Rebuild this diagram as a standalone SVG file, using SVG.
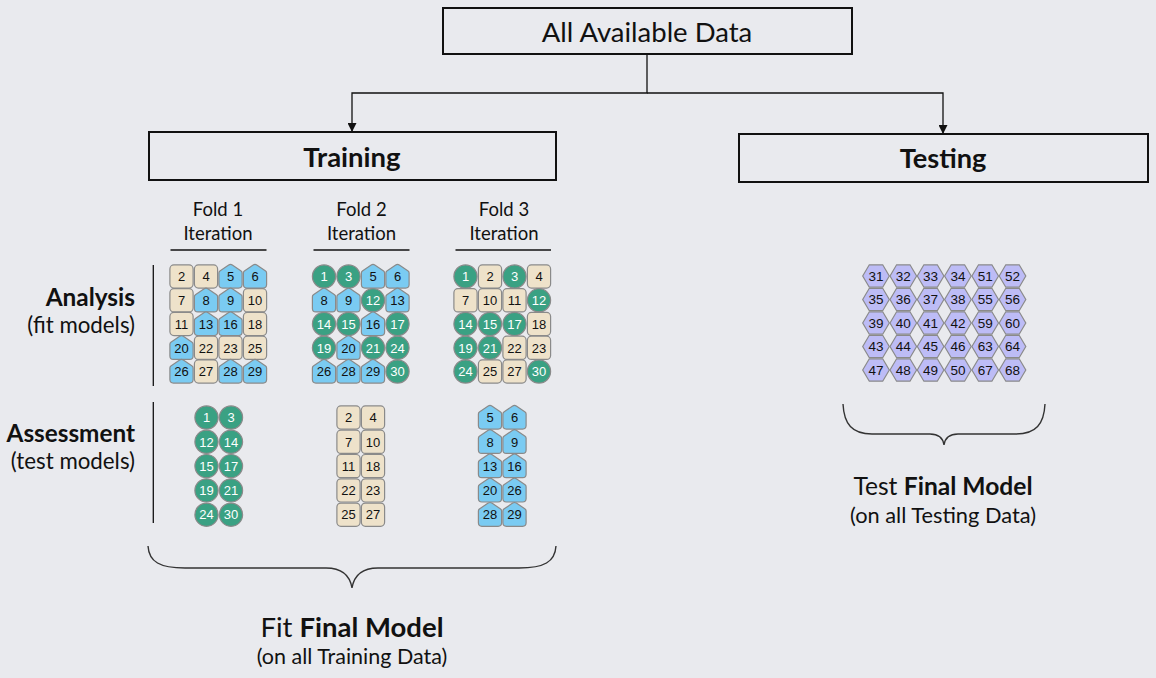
<svg xmlns="http://www.w3.org/2000/svg" xmlns:xlink="http://www.w3.org/1999/xlink" width="1156" height="678" viewBox="0 0 1156 678">
<style>
.t{font-family:Lato,"Open Sans","Liberation Sans",sans-serif;fill:#111;text-anchor:middle}
.e{text-anchor:end}
.b{font-weight:bold}
.box{fill:#E9EAEE;stroke:#111;stroke-width:2}
.ln{stroke:#111;stroke-width:1.3;fill:none}
.br{stroke:#333;stroke-width:1.4;fill:none}
.g{fill:#3AA183;stroke:#8A8A8A;stroke-width:1.2}
.y{fill:#EEE2CA;stroke:#8A8A8A;stroke-width:1.2}
.u{fill:#7ACBF2;stroke:#8A8A8A;stroke-width:1.2}
.h{fill:#BDBCF6;stroke:#8A8A8A;stroke-width:1.2}
.n{font-family:"Liberation Sans",Arial,sans-serif;font-size:13px;text-anchor:middle;fill:#111}
.w{fill:#fff}
.hn{font-size:13.5px}
</style>
<defs>
<circle id="c" r="11.6"/>
<rect id="s" x="-11.6" y="-11.6" width="23.2" height="23.2" rx="4"/>
<path id="p" d="M0,-12.2 Q0.9,-12.2 1.8,-11.6 L10.6,-5.6 Q11.6,-4.9 11.6,-3.6 L11.6,8.1 Q11.6,11.6 8.1,11.6 L-8.1,11.6 Q-11.6,11.6 -11.6,8.1 L-11.6,-3.6 Q-11.6,-4.9 -10.6,-5.6 L-1.8,-11.6 Q-0.9,-12.2 0,-12.2 Z"/>
<path id="x" d="M-13.3,0 L-6.7,-11.2 L6.7,-11.2 L13.3,0 L6.7,11.2 L-6.7,11.2 Z"/>
<marker id="ah" viewBox="0 0 10 10" refX="10" refY="5" markerWidth="9" markerHeight="9" markerUnits="userSpaceOnUse" orient="auto">
<path d="M0,0 L10,5 L0,10 Z" fill="#111"/>
</marker>
</defs>
<rect width="1156" height="678" fill="#E9EAEE"/>

<g id="connectors">
<polyline class="ln" points="647,55 647,93 352,93 352,132" marker-end="url(#ah)"/>
<polyline class="ln" points="647,93 943,93 943,134" marker-end="url(#ah)"/>
<line class="ln" x1="170.5" y1="250" x2="266.5" y2="250"/>
<line class="ln" x1="313.5" y1="250" x2="409.5" y2="250"/>
<line class="ln" x1="455.5" y1="250" x2="551" y2="250"/>
<line class="ln" x1="153.3" y1="265" x2="153.3" y2="386"/>
<line class="ln" x1="153.3" y1="402" x2="153.3" y2="523"/>
<path class="br" d="M148,546 C149,562 160,568 185,568 L326,568 C342,568 350,576 352,588 C354,576 362,568 378,568 L519,568 C544,568 555,562 556,546"/>
<path class="br" d="M843,404 C844,424 852,434 872,434 L930,434 C938,434 943,438 944,445 C945,438 950,434 958,434 L1016,434 C1036,434 1044,424 1045,404"/>
</g>

<g id="all-data">
<rect class="box" x="443" y="8" width="409" height="46"/>
<text class="t" x="647" y="42" font-size="27.5">All Available Data</text>
</g>
<g id="training">
<rect class="box" x="149" y="132" width="407" height="48"/>
<text class="t b" x="352" y="166.5" font-size="27.5">Training</text>
</g>
<g id="testing">
<rect class="box" x="739" y="134" width="409" height="48"/>
<text class="t b" x="943" y="168" font-size="27.2">Testing</text>
</g>

<g id="fold-labels">
<text class="t" x="218" y="216" font-size="18.5">Fold 1</text>
<text class="t" x="218" y="240" font-size="18.5">Iteration</text>
<text class="t" x="361.5" y="216" font-size="18.5">Fold 2</text>
<text class="t" x="361.5" y="240" font-size="18.5">Iteration</text>
<text class="t" x="504" y="216" font-size="18.5">Fold 3</text>
<text class="t" x="504" y="240" font-size="18.5">Iteration</text>
</g>

<g id="row-labels">
<text class="t e b" x="135" y="306" font-size="24.4">Analysis</text>
<text class="t e" x="135" y="333" font-size="22.3">(fit models)</text>
<text class="t e b" x="135" y="441.5" font-size="24.3">Assessment</text>
<text class="t e" x="135" y="469" font-size="22.3">(test models)</text>
</g>

<g id="fold1-analysis">
<use href="#s" class="y" x="181.5" y="276.5"/><text class="n" x="181.5" y="281.2">2</text>
<use href="#s" class="y" x="206" y="276.5"/><text class="n" x="206" y="281.2">4</text>
<use href="#p" class="u" x="230.5" y="276.5"/><text class="n" x="230.5" y="281.2">5</text>
<use href="#p" class="u" x="255" y="276.5"/><text class="n" x="255" y="281.2">6</text>
<use href="#s" class="y" x="181.5" y="300.3"/><text class="n" x="181.5" y="305">7</text>
<use href="#p" class="u" x="206" y="300.3"/><text class="n" x="206" y="305">8</text>
<use href="#p" class="u" x="230.5" y="300.3"/><text class="n" x="230.5" y="305">9</text>
<use href="#s" class="y" x="255" y="300.3"/><text class="n" x="255" y="305">10</text>
<use href="#s" class="y" x="181.5" y="324"/><text class="n" x="181.5" y="328.7">11</text>
<use href="#p" class="u" x="206" y="324"/><text class="n" x="206" y="328.7">13</text>
<use href="#p" class="u" x="230.5" y="324"/><text class="n" x="230.5" y="328.7">16</text>
<use href="#s" class="y" x="255" y="324"/><text class="n" x="255" y="328.7">18</text>
<use href="#p" class="u" x="181.5" y="347.8"/><text class="n" x="181.5" y="352.5">20</text>
<use href="#s" class="y" x="206" y="347.8"/><text class="n" x="206" y="352.5">22</text>
<use href="#s" class="y" x="230.5" y="347.8"/><text class="n" x="230.5" y="352.5">23</text>
<use href="#s" class="y" x="255" y="347.8"/><text class="n" x="255" y="352.5">25</text>
<use href="#p" class="u" x="181.5" y="371.5"/><text class="n" x="181.5" y="376.2">26</text>
<use href="#s" class="y" x="206" y="371.5"/><text class="n" x="206" y="376.2">27</text>
<use href="#p" class="u" x="230.5" y="371.5"/><text class="n" x="230.5" y="376.2">28</text>
<use href="#p" class="u" x="255" y="371.5"/><text class="n" x="255" y="376.2">29</text>
</g>

<g id="fold2-analysis">
<use href="#c" class="g" x="324" y="276.5"/><text class="n w" x="324" y="281.2">1</text>
<use href="#c" class="g" x="348.5" y="276.5"/><text class="n w" x="348.5" y="281.2">3</text>
<use href="#p" class="u" x="373" y="276.5"/><text class="n" x="373" y="281.2">5</text>
<use href="#p" class="u" x="397.5" y="276.5"/><text class="n" x="397.5" y="281.2">6</text>
<use href="#p" class="u" x="324" y="300.3"/><text class="n" x="324" y="305">8</text>
<use href="#p" class="u" x="348.5" y="300.3"/><text class="n" x="348.5" y="305">9</text>
<use href="#c" class="g" x="373" y="300.3"/><text class="n w" x="373" y="305">12</text>
<use href="#p" class="u" x="397.5" y="300.3"/><text class="n" x="397.5" y="305">13</text>
<use href="#c" class="g" x="324" y="324"/><text class="n w" x="324" y="328.7">14</text>
<use href="#c" class="g" x="348.5" y="324"/><text class="n w" x="348.5" y="328.7">15</text>
<use href="#p" class="u" x="373" y="324"/><text class="n" x="373" y="328.7">16</text>
<use href="#c" class="g" x="397.5" y="324"/><text class="n w" x="397.5" y="328.7">17</text>
<use href="#c" class="g" x="324" y="347.8"/><text class="n w" x="324" y="352.5">19</text>
<use href="#p" class="u" x="348.5" y="347.8"/><text class="n" x="348.5" y="352.5">20</text>
<use href="#c" class="g" x="373" y="347.8"/><text class="n w" x="373" y="352.5">21</text>
<use href="#c" class="g" x="397.5" y="347.8"/><text class="n w" x="397.5" y="352.5">24</text>
<use href="#p" class="u" x="324" y="371.5"/><text class="n" x="324" y="376.2">26</text>
<use href="#p" class="u" x="348.5" y="371.5"/><text class="n" x="348.5" y="376.2">28</text>
<use href="#p" class="u" x="373" y="371.5"/><text class="n" x="373" y="376.2">29</text>
<use href="#c" class="g" x="397.5" y="371.5"/><text class="n w" x="397.5" y="376.2">30</text>
</g>

<g id="fold3-analysis">
<use href="#c" class="g" x="465.5" y="276.5"/><text class="n w" x="465.5" y="281.2">1</text>
<use href="#s" class="y" x="490" y="276.5"/><text class="n" x="490" y="281.2">2</text>
<use href="#c" class="g" x="514.5" y="276.5"/><text class="n w" x="514.5" y="281.2">3</text>
<use href="#s" class="y" x="539" y="276.5"/><text class="n" x="539" y="281.2">4</text>
<use href="#s" class="y" x="465.5" y="300.3"/><text class="n" x="465.5" y="305">7</text>
<use href="#s" class="y" x="490" y="300.3"/><text class="n" x="490" y="305">10</text>
<use href="#s" class="y" x="514.5" y="300.3"/><text class="n" x="514.5" y="305">11</text>
<use href="#c" class="g" x="539" y="300.3"/><text class="n w" x="539" y="305">12</text>
<use href="#c" class="g" x="465.5" y="324"/><text class="n w" x="465.5" y="328.7">14</text>
<use href="#c" class="g" x="490" y="324"/><text class="n w" x="490" y="328.7">15</text>
<use href="#c" class="g" x="514.5" y="324"/><text class="n w" x="514.5" y="328.7">17</text>
<use href="#s" class="y" x="539" y="324"/><text class="n" x="539" y="328.7">18</text>
<use href="#c" class="g" x="465.5" y="347.8"/><text class="n w" x="465.5" y="352.5">19</text>
<use href="#c" class="g" x="490" y="347.8"/><text class="n w" x="490" y="352.5">21</text>
<use href="#s" class="y" x="514.5" y="347.8"/><text class="n" x="514.5" y="352.5">22</text>
<use href="#s" class="y" x="539" y="347.8"/><text class="n" x="539" y="352.5">23</text>
<use href="#c" class="g" x="465.5" y="371.5"/><text class="n w" x="465.5" y="376.2">24</text>
<use href="#s" class="y" x="490" y="371.5"/><text class="n" x="490" y="376.2">25</text>
<use href="#s" class="y" x="514.5" y="371.5"/><text class="n" x="514.5" y="376.2">27</text>
<use href="#c" class="g" x="539" y="371.5"/><text class="n w" x="539" y="376.2">30</text>
</g>

<g id="fold1-assessment">
<use href="#c" class="g" x="206.5" y="417.5"/><text class="n w" x="206.5" y="422.2">1</text>
<use href="#c" class="g" x="231" y="417.5"/><text class="n w" x="231" y="422.2">3</text>
<use href="#c" class="g" x="206.5" y="441.8"/><text class="n w" x="206.5" y="446.5">12</text>
<use href="#c" class="g" x="231" y="441.8"/><text class="n w" x="231" y="446.5">14</text>
<use href="#c" class="g" x="206.5" y="466.1"/><text class="n w" x="206.5" y="470.8">15</text>
<use href="#c" class="g" x="231" y="466.1"/><text class="n w" x="231" y="470.8">17</text>
<use href="#c" class="g" x="206.5" y="490.4"/><text class="n w" x="206.5" y="495.1">19</text>
<use href="#c" class="g" x="231" y="490.4"/><text class="n w" x="231" y="495.1">21</text>
<use href="#c" class="g" x="206.5" y="514.7"/><text class="n w" x="206.5" y="519.4">24</text>
<use href="#c" class="g" x="231" y="514.7"/><text class="n w" x="231" y="519.4">30</text>
</g>

<g id="fold2-assessment">
<use href="#s" class="y" x="348.5" y="417.5"/><text class="n" x="348.5" y="422.2">2</text>
<use href="#s" class="y" x="373" y="417.5"/><text class="n" x="373" y="422.2">4</text>
<use href="#s" class="y" x="348.5" y="441.8"/><text class="n" x="348.5" y="446.5">7</text>
<use href="#s" class="y" x="373" y="441.8"/><text class="n" x="373" y="446.5">10</text>
<use href="#s" class="y" x="348.5" y="466.1"/><text class="n" x="348.5" y="470.8">11</text>
<use href="#s" class="y" x="373" y="466.1"/><text class="n" x="373" y="470.8">18</text>
<use href="#s" class="y" x="348.5" y="490.4"/><text class="n" x="348.5" y="495.1">22</text>
<use href="#s" class="y" x="373" y="490.4"/><text class="n" x="373" y="495.1">23</text>
<use href="#s" class="y" x="348.5" y="514.7"/><text class="n" x="348.5" y="519.4">25</text>
<use href="#s" class="y" x="373" y="514.7"/><text class="n" x="373" y="519.4">27</text>
</g>

<g id="fold3-assessment">
<use href="#p" class="u" x="490" y="417.5"/><text class="n" x="490" y="422.2">5</text>
<use href="#p" class="u" x="514.5" y="417.5"/><text class="n" x="514.5" y="422.2">6</text>
<use href="#p" class="u" x="490" y="441.8"/><text class="n" x="490" y="446.5">8</text>
<use href="#p" class="u" x="514.5" y="441.8"/><text class="n" x="514.5" y="446.5">9</text>
<use href="#p" class="u" x="490" y="466.1"/><text class="n" x="490" y="470.8">13</text>
<use href="#p" class="u" x="514.5" y="466.1"/><text class="n" x="514.5" y="470.8">16</text>
<use href="#p" class="u" x="490" y="490.4"/><text class="n" x="490" y="495.1">20</text>
<use href="#p" class="u" x="514.5" y="490.4"/><text class="n" x="514.5" y="495.1">26</text>
<use href="#p" class="u" x="490" y="514.7"/><text class="n" x="490" y="519.4">28</text>
<use href="#p" class="u" x="514.5" y="514.7"/><text class="n" x="514.5" y="519.4">29</text>
</g>

<g id="testing-data">
<use href="#x" class="h" x="876" y="276"/><text class="n hn" x="876" y="280.8">31</text>
<use href="#x" class="h" x="903.3" y="276"/><text class="n hn" x="903.3" y="280.8">32</text>
<use href="#x" class="h" x="930.6" y="276"/><text class="n hn" x="930.6" y="280.8">33</text>
<use href="#x" class="h" x="957.9" y="276"/><text class="n hn" x="957.9" y="280.8">34</text>
<use href="#x" class="h" x="985.2" y="276"/><text class="n hn" x="985.2" y="280.8">51</text>
<use href="#x" class="h" x="1012.5" y="276"/><text class="n hn" x="1012.5" y="280.8">52</text>
<use href="#x" class="h" x="876" y="299.5"/><text class="n hn" x="876" y="304.3">35</text>
<use href="#x" class="h" x="903.3" y="299.5"/><text class="n hn" x="903.3" y="304.3">36</text>
<use href="#x" class="h" x="930.6" y="299.5"/><text class="n hn" x="930.6" y="304.3">37</text>
<use href="#x" class="h" x="957.9" y="299.5"/><text class="n hn" x="957.9" y="304.3">38</text>
<use href="#x" class="h" x="985.2" y="299.5"/><text class="n hn" x="985.2" y="304.3">55</text>
<use href="#x" class="h" x="1012.5" y="299.5"/><text class="n hn" x="1012.5" y="304.3">56</text>
<use href="#x" class="h" x="876" y="323"/><text class="n hn" x="876" y="327.8">39</text>
<use href="#x" class="h" x="903.3" y="323"/><text class="n hn" x="903.3" y="327.8">40</text>
<use href="#x" class="h" x="930.6" y="323"/><text class="n hn" x="930.6" y="327.8">41</text>
<use href="#x" class="h" x="957.9" y="323"/><text class="n hn" x="957.9" y="327.8">42</text>
<use href="#x" class="h" x="985.2" y="323"/><text class="n hn" x="985.2" y="327.8">59</text>
<use href="#x" class="h" x="1012.5" y="323"/><text class="n hn" x="1012.5" y="327.8">60</text>
<use href="#x" class="h" x="876" y="346.5"/><text class="n hn" x="876" y="351.3">43</text>
<use href="#x" class="h" x="903.3" y="346.5"/><text class="n hn" x="903.3" y="351.3">44</text>
<use href="#x" class="h" x="930.6" y="346.5"/><text class="n hn" x="930.6" y="351.3">45</text>
<use href="#x" class="h" x="957.9" y="346.5"/><text class="n hn" x="957.9" y="351.3">46</text>
<use href="#x" class="h" x="985.2" y="346.5"/><text class="n hn" x="985.2" y="351.3">63</text>
<use href="#x" class="h" x="1012.5" y="346.5"/><text class="n hn" x="1012.5" y="351.3">64</text>
<use href="#x" class="h" x="876" y="370"/><text class="n hn" x="876" y="374.8">47</text>
<use href="#x" class="h" x="903.3" y="370"/><text class="n hn" x="903.3" y="374.8">48</text>
<use href="#x" class="h" x="930.6" y="370"/><text class="n hn" x="930.6" y="374.8">49</text>
<use href="#x" class="h" x="957.9" y="370"/><text class="n hn" x="957.9" y="374.8">50</text>
<use href="#x" class="h" x="985.2" y="370"/><text class="n hn" x="985.2" y="374.8">67</text>
<use href="#x" class="h" x="1012.5" y="370"/><text class="n hn" x="1012.5" y="374.8">68</text>
</g>

<g id="fit-final">
<text class="t" x="352" y="637" font-size="27.5">Fit <tspan class="b">Final Model</tspan></text>
<text class="t" x="352" y="664" font-size="21.5">(on all Training Data)</text>
</g>
<g id="test-final">
<text class="t" x="943" y="495" font-size="24.6">Test <tspan class="b">Final Model</tspan></text>
<text class="t" x="943" y="523" font-size="21.8">(on all Testing Data)</text>
</g>
</svg>
